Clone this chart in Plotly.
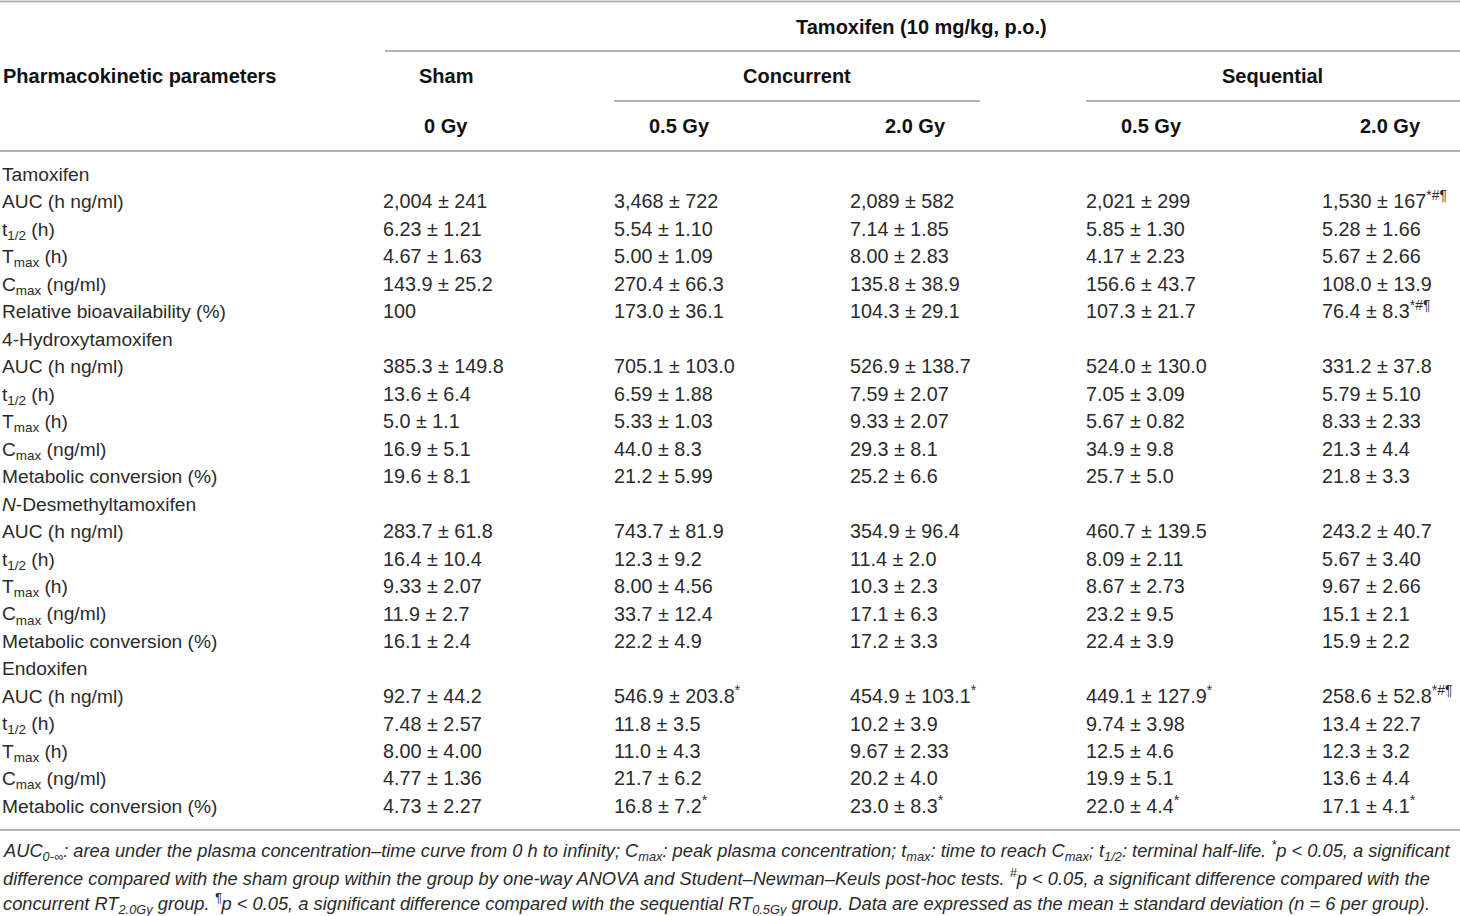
import plotly.graph_objects as go

# ---- table data ----
row_labels = [
    "Tamoxifen",
    "AUC (h ng/ml)",
    "t<sub>1/2</sub> (h)",
    "T<sub>max</sub> (h)",
    "C<sub>max</sub> (ng/ml)",
    "Relative bioavailability (%)",
    "4-Hydroxytamoxifen",
    "AUC (h ng/ml)",
    "t<sub>1/2</sub> (h)",
    "T<sub>max</sub> (h)",
    "C<sub>max</sub> (ng/ml)",
    "Metabolic conversion (%)",
    "<i>N</i>-Desmethyltamoxifen",
    "AUC (h ng/ml)",
    "t<sub>1/2</sub> (h)",
    "T<sub>max</sub> (h)",
    "C<sub>max</sub> (ng/ml)",
    "Metabolic conversion (%)",
    "Endoxifen",
    "AUC (h ng/ml)",
    "t<sub>1/2</sub> (h)",
    "T<sub>max</sub> (h)",
    "C<sub>max</sub> (ng/ml)",
    "Metabolic conversion (%)",
]

sham_0gy = [
    "", "2,004 ± 241", "6.23 ± 1.21", "4.67 ± 1.63", "143.9 ± 25.2", "100",
    "", "385.3 ± 149.8", "13.6 ± 6.4", "5.0 ± 1.1", "16.9 ± 5.1", "19.6 ± 8.1",
    "", "283.7 ± 61.8", "16.4 ± 10.4", "9.33 ± 2.07", "11.9 ± 2.7", "16.1 ± 2.4",
    "", "92.7 ± 44.2", "7.48 ± 2.57", "8.00 ± 4.00", "4.77 ± 1.36", "4.73 ± 2.27",
]
concurrent_05gy = [
    "", "3,468 ± 722", "5.54 ± 1.10", "5.00 ± 1.09", "270.4 ± 66.3", "173.0 ± 36.1",
    "", "705.1 ± 103.0", "6.59 ± 1.88", "5.33 ± 1.03", "44.0 ± 8.3", "21.2 ± 5.99",
    "", "743.7 ± 81.9", "12.3 ± 9.2", "8.00 ± 4.56", "33.7 ± 12.4", "22.2 ± 4.9",
    "", "546.9 ± 203.8<sup>*</sup>", "11.8 ± 3.5", "11.0 ± 4.3", "21.7 ± 6.2", "16.8 ± 7.2<sup>*</sup>",
]
concurrent_20gy = [
    "", "2,089 ± 582", "7.14 ± 1.85", "8.00 ± 2.83", "135.8 ± 38.9", "104.3 ± 29.1",
    "", "526.9 ± 138.7", "7.59 ± 2.07", "9.33 ± 2.07", "29.3 ± 8.1", "25.2 ± 6.6",
    "", "354.9 ± 96.4", "11.4 ± 2.0", "10.3 ± 2.3", "17.1 ± 6.3", "17.2 ± 3.3",
    "", "454.9 ± 103.1<sup>*</sup>", "10.2 ± 3.9", "9.67 ± 2.33", "20.2 ± 4.0", "23.0 ± 8.3<sup>*</sup>",
]
sequential_05gy = [
    "", "2,021 ± 299", "5.85 ± 1.30", "4.17 ± 2.23", "156.6 ± 43.7", "107.3 ± 21.7",
    "", "524.0 ± 130.0", "7.05 ± 3.09", "5.67 ± 0.82", "34.9 ± 9.8", "25.7 ± 5.0",
    "", "460.7 ± 139.5", "8.09 ± 2.11", "8.67 ± 2.73", "23.2 ± 9.5", "22.4 ± 3.9",
    "", "449.1 ± 127.9<sup>*</sup>", "9.74 ± 3.98", "12.5 ± 4.6", "19.9 ± 5.1", "22.0 ± 4.4<sup>*</sup>",
]
sequential_20gy = [
    "", "1,530 ± 167<sup>*#¶</sup>", "5.28 ± 1.66", "5.67 ± 2.66", "108.0 ± 13.9", "76.4 ± 8.3<sup>*#¶</sup>",
    "", "331.2 ± 37.8", "5.79 ± 5.10", "8.33 ± 2.33", "21.3 ± 4.4", "21.8 ± 3.3",
    "", "243.2 ± 40.7", "5.67 ± 3.40", "9.67 ± 2.66", "15.1 ± 2.1", "15.9 ± 2.2",
    "", "258.6 ± 52.8<sup>*#¶</sup>", "13.4 ± 22.7", "12.3 ± 3.2", "13.6 ± 4.4", "17.1 ± 4.1<sup>*</sup>",
]

top_header = "Tamoxifen (10 mg/kg, p.o.)"
first_col_header = "Pharmacokinetic parameters"
group_headers = ["Sham", "Concurrent", "Sequential"]
dose_headers = ["0 Gy", "0.5 Gy", "2.0 Gy", "0.5 Gy", "2.0 Gy"]

footnote_lines = [
    "AUC<sub>0-∞</sub>: area under the plasma concentration–time curve from 0 h to infinity; "
    "C<sub>max</sub>: peak plasma concentration; t<sub>max</sub>: time to reach C<sub>max</sub>; "
    "t<sub>1/2</sub>: terminal half-life. <sup>*</sup>p &lt; 0.05, a significant",
    "difference compared with the sham group within the group by one-way ANOVA and "
    "Student–Newman–Keuls post-hoc tests. <sup>#</sup>p &lt; 0.05, a significant difference compared with the",
    "concurrent RT<sub>2.0Gy</sub> group. <sup>¶</sup>p &lt; 0.05, a significant difference compared "
    "with the sequential RT<sub>0.5Gy</sub> group. Data are expressed as the mean ± standard deviation (n = 6 per group).",
]

# ---- layout constants ----
W, H = 1460, 916
FONT = "Liberation Sans"
TXT = "#2b2b2b"
RULE = "#b4b4b4"
body_top = 176
row_h = 27.48
col_x = [383, 614, 850, 1086, 1322]
col_centers = [446, 679, 915, 1151, 1390]
group_centers = [446, 797, 1272]

columns = [sham_0gy, concurrent_05gy, concurrent_20gy, sequential_05gy, sequential_20gy]
row_y = [body_top + i * row_h for i in range(len(row_labels))]

fig = go.Figure()


def text_column(x0, texts, size):
    keep = [i for i, t in enumerate(texts) if t]
    return go.Scatter(
        x=[x0] * len(keep), y=[row_y[i] for i in keep], text=[texts[i] for i in keep],
        mode="text", textposition="middle right",
        textfont=dict(family=FONT, size=size, color=TXT),
        hoverinfo="skip", showlegend=False,
    )


fig.add_trace(text_column(2, row_labels, 19.2))
for cx, vals in zip(col_x, columns):
    fig.add_trace(text_column(cx, vals, 19.8))

bold = dict(family=FONT, size=20, color="#111111")
ann = []
ann.append(dict(x=921, y=27, text="<b>%s</b>" % top_header, xanchor="center", font=bold))
ann.append(dict(x=1, y=76, text="<b>%s</b>" % first_col_header, xanchor="left", font=bold))
for gx, g in zip(group_centers, group_headers):
    ann.append(dict(x=gx, y=76, text="<b>%s</b>" % g, xanchor="center", font=bold))
for dx, d in zip(col_centers, dose_headers):
    ann.append(dict(x=dx, y=126, text="<b>%s</b>" % d, xanchor="center", font=bold))
for i, line in enumerate(footnote_lines):
    ann.append(dict(x=0.5, y=850 + i * 26.5, text="<i>%s</i>" % line, xanchor="left",
                    font=dict(family=FONT, size=18.3, color=TXT)))
for a in ann:
    a.update(xref="x", yref="y", yanchor="middle", showarrow=False)

rules = [
    (0, W, 1.5), (385, W, 51), (614, 980, 101), (1086, W, 101), (0, W, 151), (0, W, 830),
]
shapes = [dict(type="line", xref="x", yref="y", x0=a, x1=b, y0=y, y1=y,
               line=dict(color=RULE, width=2)) for a, b, y in rules]

fig.update_layout(
    width=W, height=H,
    margin=dict(l=0, r=0, t=0, b=0),
    paper_bgcolor="white", plot_bgcolor="white",
    xaxis=dict(range=[0, W], visible=False, fixedrange=True),
    yaxis=dict(range=[H, 0], visible=False, fixedrange=True),
    annotations=ann, shapes=shapes,
)

# drop the default page margin so the figure sits at the window's top-left
fig.write_html("out.html", config={"displayModeBar": False},
               post_script="document.body.style.margin='0';")
